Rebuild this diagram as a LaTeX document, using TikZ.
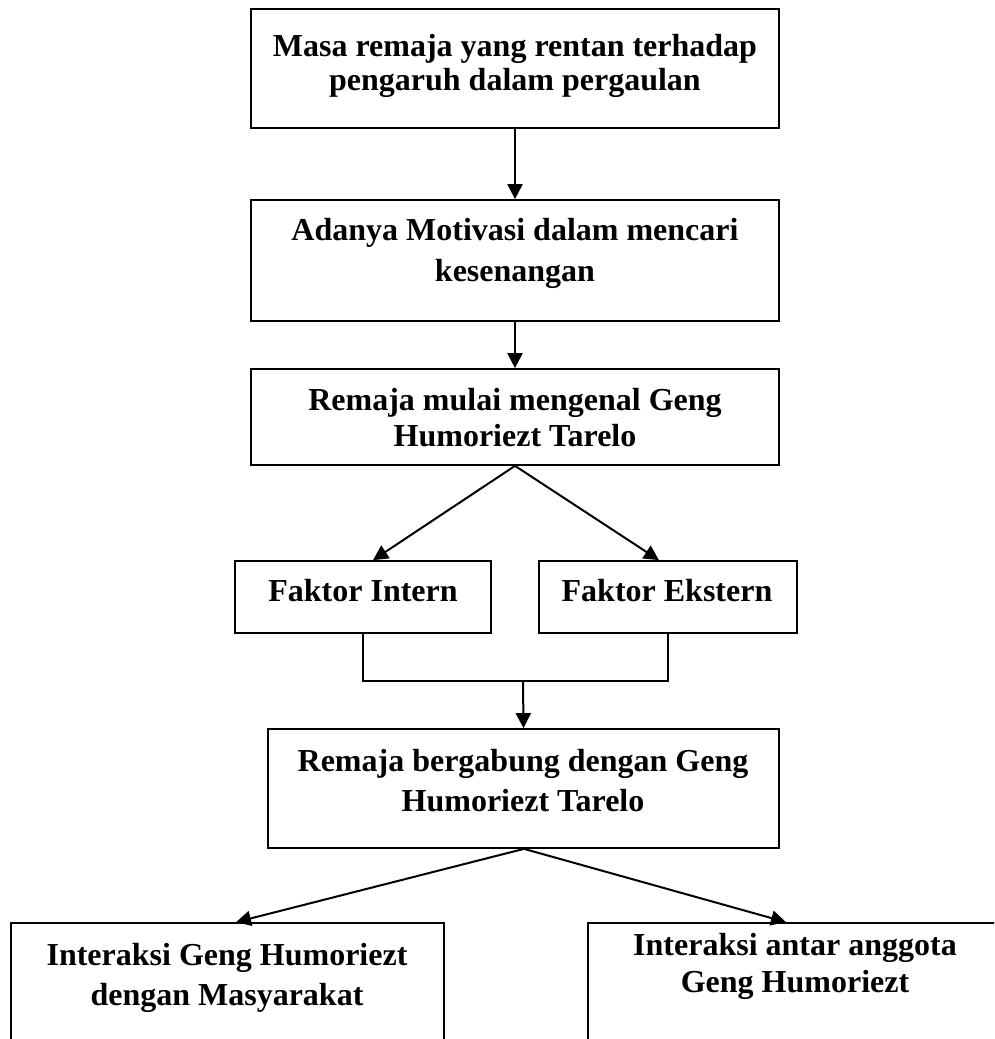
\documentclass[tikz,border=0pt]{standalone}
\usepackage{fontspec}
\setmainfont{Liberation Serif}
\usetikzlibrary{arrows.meta}
\begin{document}
\begin{tikzpicture}[x=1pt,y=-1pt,
  box/.style={draw, line width=1.7pt, inner sep=0pt, minimum width=#1},
  txt/.style={align=center, inner sep=0pt, font=\bfseries},
  arr/.style={line width=2pt, -{Triangle[width=15pt,length=15pt]}},
  link/.style={line width=1.5pt}]
\useasboundingbox (0,0) rectangle (994,1039);
\clip (0,0) rectangle (994,1039);
% boxes
\node[box=528pt, minimum height=119pt] (b1) at (515,68.5) {};
\node[box=528pt, minimum height=121pt] (b2) at (515,260.5) {};
\node[box=528pt, minimum height=96pt] (b3) at (515,417) {};
\node[box=256pt, minimum height=72pt] (fi) at (363,597) {};
\node[box=258pt, minimum height=72pt] (fe) at (668,597) {};
\node[box=511pt, minimum height=119pt] (b4) at (523.5,788.5) {};
\node[box=433pt, minimum height=134pt] (bl) at (227.5,990) {};
\node[box=422pt, minimum height=134pt] (br) at (799,990) {};
% texts
\node[txt, font=\fontsize{32}{34}\selectfont\bfseries] (t1) at (515,66) {Masa remaja yang rentan terhadap\\pengaruh dalam pergaulan};
\node[txt, font=\fontsize{32}{41}\selectfont\bfseries] (t2) at (515,253) {Adanya Motivasi dalam mencari\\kesenangan};
\node[txt, font=\fontsize{32}{36}\selectfont\bfseries] (t3) at (515,418) {Remaja mulai mengenal Geng\\Humoriezt Tarelo};
\node[txt, font=\fontsize{32}{36}\selectfont\bfseries] (tfi) at (363,591) {Faktor Intern};
\node[txt, font=\fontsize{32}{36}\selectfont\bfseries] (tfe) at (667,591) {Faktor Ekstern};
\node[txt, font=\fontsize{32}{40}\selectfont\bfseries] (t4) at (523,781) {Remaja bergabung dengan Geng\\Humoriezt Tarelo};
\node[txt, font=\fontsize{32}{40}\selectfont\bfseries] (tl) at (227,977.5) {Interaksi Geng Humoriezt\\dengan Masyarakat};
\node[txt, font=\fontsize{32}{37}\selectfont\bfseries] (tr) at (795,966) {Interaksi antar anggota\\Geng Humoriezt};
% connectors
\draw[arr] (b1.south) -- (b2.north);
\draw[arr] (b2.south) -- (b3.north);
\draw[arr] (b3.south) -- ([xshift=10pt]fi.north);
\draw[arr] (b3.south) -- ([xshift=-9pt]fe.north);
\coordinate (m) at (523,681);
\draw[link] (fi.south) |- (m) -| (fe.south);
\draw[arr] (m) -- (b4.north);
\draw[arr] ([xshift=0.5pt]b4.south) -- ([xshift=8.5pt]bl.north);
\draw[arr] ([xshift=0.5pt]b4.south) -- ([xshift=-13pt]br.north);
\end{tikzpicture}
\end{document}
